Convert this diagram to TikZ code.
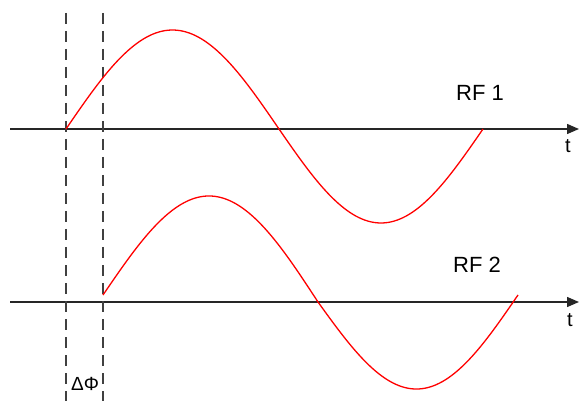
\documentclass[tikz,border=0pt]{standalone}
\usepackage{fontspec}
\setmainfont{Liberation Sans}
\usetikzlibrary{arrows.meta}
\begin{document}
\begin{tikzpicture}[x=1pt,y=-1pt,
  axis/.style={draw=black!85,line width=1.4pt,-{Triangle[length=12pt,width=10pt]}},
  guide/.style={draw=black!75,line width=1.2pt,dash pattern=on 11pt off 7pt},
  wave/.style={draw=red,line width=1.3pt},
  lbl/.style={font=\fontsize{22}{24}\selectfont,inner sep=0pt},
  tlbl/.style={font=\fontsize{20}{22}\selectfont,inner sep=0pt}]
\useasboundingbox (0,0) rectangle (579,401);
% axes
\coordinate (a1s) at (10,129);
\coordinate (a1e) at (579,129);
\coordinate (a2s) at (10,302);
\coordinate (a2e) at (579,302);
\draw[axis] (a1s) -- (a1e);
\draw[axis] (a2s) -- (a2e);
% dashed guides
\coordinate (g1t) at (66,13);
\coordinate (g1b) at (66,401);
\coordinate (g2t) at (103,13);
\coordinate (g2b) at (103,401);
\draw[guide] (g1t) -- (g1b);
\draw[guide] (g2t) -- (g2b);
% waves
\draw[wave] plot[domain=66:279,samples=70,smooth] (\x,{129-99*sin(0.84507*(\x-66))})
  -- plot[domain=279:483,samples=70,smooth] (\x,{129+94*sin(0.88235*(\x-279))});
\draw[wave] plot[domain=103:318,samples=70,smooth] (\x,{295+0.032558*(\x-103)-102.5*sin(0.83721*(\x-103))})
  -- plot[domain=318:518,samples=70,smooth] (\x,{302-0.035*(\x-318)+90.5*sin(0.9*(\x-318))});
% labels
\node[lbl] (rf1) at (480,93) {RF 1};
\node[lbl] (rf2) at (477,265) {RF 2};
\node[tlbl] (t1) at (568,146) {t};
\node[tlbl] (t2) at (570,320) {t};
\node[font=\fontsize{19}{21}\selectfont,inner sep=0pt] (dphi) at (85,384) {ΔΦ};
\end{tikzpicture}
\end{document}
